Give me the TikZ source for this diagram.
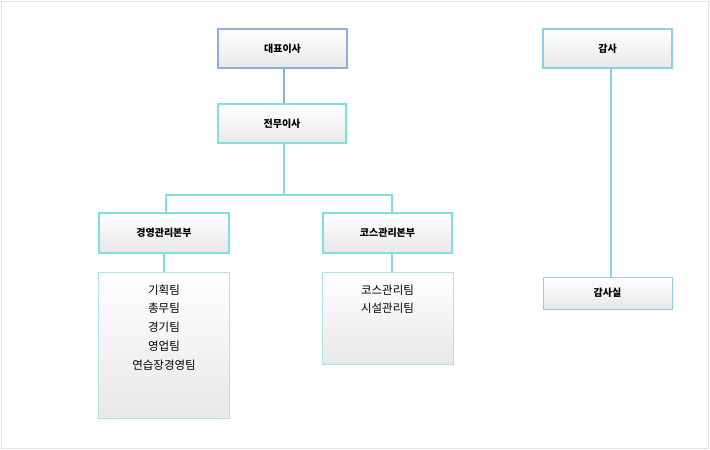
\documentclass[tikz,border=0pt]{standalone}
\usepackage{fontspec}
\setmainfont{Noto Sans CJK KR}
\begin{document}
\begin{tikzpicture}[x=1pt,y=-1pt,
 box/.style={draw=#1,line width=2.6pt,top color=white,bottom color=gray!15,inner sep=0pt},
 lst/.style={draw=cyan!40!teal!30,line width=0.8pt,top color=white,bottom color=gray!15},
 ttl/.style={font=\fontsize{10}{12}\selectfont\bfseries}]
\definecolor{bl}{HTML}{8EAEE0}\definecolor{cy}{HTML}{7FE0E0}\definecolor{sk}{HTML}{8CCFE6}\definecolor{lc}{HTML}{A8E4E8}
\fill[white] (0,0) rectangle (710,450);
\draw[gray!20,line width=1.5pt] (1.5,1.5) rectangle (708.5,448.5);
\draw[bl,line width=2pt] (284,68) -- (284,104);
\draw[cy,line width=2pt] (284,143) -- (284,195) (166,213)--(166,195)--(392,195)--(392,213) (164,253)--(164,272) (392,253)--(392,272);
\draw[sk,line width=2pt] (611,68) -- (611,277);
\shade[top color=white,bottom color=gray!18,draw=bl,line width=2.6pt] (218,29) rectangle (347,68);
\node[ttl] (ceo) at (282.5,48.5) {대표이사};
\shade[top color=white,bottom color=gray!18,draw=cy,line width=2.6pt] (218,104) rectangle (346,143);
\node[ttl] (vp) at (282,123.5) {전무이사};
\shade[top color=white,bottom color=gray!18,draw=cy,line width=2.6pt] (99,213) rectangle (229,253);
\node[ttl] (d1) at (164,233) {경영관리본부};
\shade[top color=white,bottom color=gray!18,draw=cy,line width=2.6pt] (323,213) rectangle (452,253);
\node[ttl] (d2) at (387.5,233) {코스관리본부};
\shade[top color=white,bottom color=gray!18,draw=sk,line width=2.6pt] (543,29) rectangle (672,68);
\node[ttl] (aud) at (607.5,48.5) {감사};
\shade[top color=white,bottom color=gray!18,draw=lc,line width=0.8pt] (98,272) rectangle (229,418);
\shade[top color=white,bottom color=gray!18,draw=lc,line width=0.8pt] (322,272) rectangle (453,364);
\shade[top color=white,bottom color=gray!18,draw=sk,line width=0.8pt] (543,277) rectangle (672,309);
\node[ttl] (aud2) at (607.5,293) {감사실};
\node[font=\fontsize{11.5}{18.75}\selectfont,align=center,anchor=north] (l1) at (164,281) {기획팀\\총무팀\\경기팀\\영업팀\\연습장경영팀};
\node[font=\fontsize{11.5}{18.75}\selectfont,align=center,anchor=north] (l2) at (387.5,281) {코스관리팀\\시설관리팀};
\end{tikzpicture}
\end{document}
